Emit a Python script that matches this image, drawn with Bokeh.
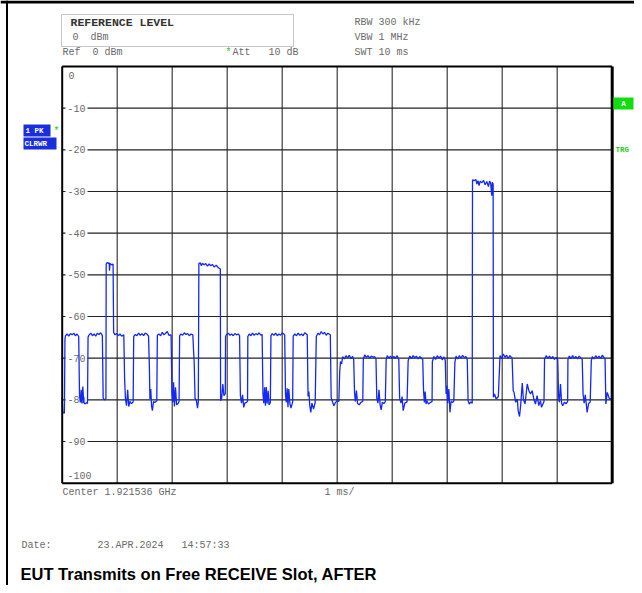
from bokeh.plotting import figure
from bokeh.models import Range1d
from bokeh.core.properties import value
from bokeh.embed import file_html
from bokeh.resources import INLINE

# ---------------- data ----------------
x_ticks_ms = [0, 1, 2, 3, 4, 5, 6, 7, 8, 9, 10]
y_ticks_db = [0, -10, -20, -30, -40, -50, -60, -70, -80, -90, -100]
y_tick_labels = ["0", "-10", "-20", "-30", "-40", "-50", "-60", "-70", "-80", "-90", "-100"]

trace_ms = [
    0.00, 0.01, 0.04, 0.05, 0.06, 0.09, 0.12, 0.15, 0.18, 0.21, 0.24, 0.27, 0.30, 0.315, 0.33, 0.345, 0.36, 0.375, 0.39, 0.41, 0.44, 0.46,
    0.47, 0.49, 0.52, 0.55, 0.58, 0.61, 0.64, 0.67, 0.70, 0.73, 0.745, 0.77, 0.795,
    0.80, 0.82, 0.84, 0.855, 0.86, 0.87, 0.90, 0.925, 0.935, 0.96, 0.99, 1.02, 1.05, 1.08, 1.12, 1.135, 1.15, 1.17, 1.19, 1.21, 1.23, 1.26, 1.29,
    1.30, 1.33, 1.36, 1.39, 1.42, 1.45, 1.48, 1.51, 1.54, 1.57, 1.585, 1.595, 1.61, 1.625, 1.64, 1.66, 1.69, 1.72,
    1.73, 1.76, 1.79, 1.82, 1.85, 1.88, 1.91, 1.94, 1.98, 1.995, 2.01, 2.025, 2.04, 2.06, 2.08, 2.11, 2.125,
    2.135, 2.16, 2.19, 2.22, 2.25, 2.28, 2.31, 2.34, 2.375, 2.39, 2.40, 2.415, 2.44, 2.46, 2.475,
    2.485, 2.51, 2.53, 2.55, 2.58, 2.61, 2.64, 2.67, 2.70, 2.73, 2.76, 2.80, 2.84, 2.875, 2.88, 2.90, 2.92, 2.94, 2.965,
    2.97, 2.99, 3.02, 3.05, 3.08, 3.11, 3.14, 3.17, 3.20, 3.225, 3.24, 3.26, 3.28, 3.30, 3.32, 3.35, 3.37,
    3.375, 3.40, 3.43, 3.46, 3.49, 3.52, 3.55, 3.58, 3.61, 3.635, 3.65, 3.665, 3.68, 3.695, 3.71, 3.725, 3.745, 3.76, 3.785,
    3.795, 3.82, 3.85, 3.88, 3.91, 3.94, 3.97, 4.00, 4.045, 4.06, 4.075, 4.09, 4.105, 4.12, 4.14, 4.16, 4.19,
    4.20, 4.23, 4.26, 4.29, 4.32, 4.35, 4.38, 4.41, 4.455, 4.47, 4.485, 4.50, 4.52, 4.54, 4.57, 4.60,
    4.62, 4.65, 4.68, 4.71, 4.74, 4.77, 4.80, 4.83, 4.875, 4.89, 4.91, 4.94, 4.97, 5.00, 5.03,
    5.045, 5.06, 5.08, 5.10, 5.13, 5.16, 5.19, 5.22, 5.25, 5.28, 5.30, 5.315, 5.33, 5.35, 5.37, 5.40, 5.43, 5.465,
    5.475, 5.50, 5.53, 5.56, 5.59, 5.62, 5.65, 5.68, 5.705, 5.72, 5.74, 5.76, 5.78, 5.80, 5.82, 5.85, 5.875,
    5.89, 5.91, 5.94, 5.97, 6.00, 6.03, 6.06, 6.09, 6.12, 6.135, 6.16, 6.18, 6.20, 6.23, 6.27,
    6.29, 6.32, 6.35, 6.38, 6.41, 6.44, 6.47, 6.50, 6.555, 6.57, 6.585, 6.60, 6.615, 6.63, 6.66, 6.70, 6.725,
    6.73, 6.76, 6.79, 6.82, 6.85, 6.88, 6.91, 6.94, 6.965, 6.98, 6.995, 7.01, 7.03, 7.05, 7.07, 7.10, 7.12,
    7.14, 7.16, 7.19, 7.22, 7.25, 7.28, 7.31, 7.34, 7.365, 7.38, 7.40, 7.43, 7.455,
    7.46, 7.49, 7.52, 7.54, 7.56, 7.58, 7.60, 7.63, 7.66, 7.69, 7.72, 7.75, 7.77, 7.79, 7.81, 7.82, 7.835, 7.84, 7.86, 7.89, 7.93,
    7.96, 7.99, 8.02, 8.05, 8.08, 8.11, 8.14, 8.18, 8.20, 8.215, 8.245, 8.275, 8.29, 8.315, 8.335, 8.365, 8.385, 8.415, 8.455, 8.485,
    8.515, 8.545, 8.575, 8.605, 8.635, 8.665, 8.695, 8.715, 8.76,
    8.77, 8.80, 8.83, 8.86, 8.89, 8.92, 8.95, 8.98, 9.01, 9.025, 9.04, 9.06, 9.08, 9.10, 9.13, 9.165, 9.19,
    9.195, 9.22, 9.25, 9.28, 9.31, 9.34, 9.37, 9.40, 9.455, 9.47, 9.49, 9.51, 9.545, 9.57, 9.60,
    9.62, 9.64, 9.67, 9.70, 9.73, 9.76, 9.79, 9.82, 9.87, 9.885, 9.91, 9.95, 10.0,
]
trace_db = [
    -79.5, -83.0, -83.2, -65.5, -64.6, -64.2, -64.7, -64.1, -64.4, -64.0, -64.6, -64.2, -64.8, -79.0, -80.6, -77.6, -80.9, -76.8, -80.5, -81.0, -80.7, -80.9,
    -65.0, -64.4, -64.0, -64.6, -64.2, -64.7, -64.0, -64.3, -63.9, -64.6, -79.6, -80.0, -79.8,
    -47.4, -47.0, -47.3, -47.1, -49.0, -47.3, -47.6, -47.4, -63.8, -64.4, -64.1, -64.6, -64.2, -64.7, -64.4, -75.0, -79.8, -81.4, -77.6, -81.6, -80.4, -80.9, -80.5,
    -64.8, -64.3, -64.6, -64.0, -64.5, -64.1, -64.6, -64.0, -64.2, -64.7, -72.0, -79.8, -77.4, -81.5, -82.6, -80.4, -80.6, -80.2,
    -64.5, -64.2, -64.6, -63.8, -64.4, -64.0, -63.6, -64.5, -64.4, -78.5, -80.6, -75.8, -81.6, -77.0, -81.2, -80.8, -80.4,
    -64.6, -64.2, -64.5, -63.9, -64.3, -64.1, -64.6, -64.2, -64.4, -68.6, -71.0, -79.6, -80.2, -82.0, -80.4,
    -47.3, -47.1, -47.8, -47.2, -47.6, -47.3, -47.9, -47.4, -47.8, -47.5, -48.1, -47.7, -48.3, -48.6, -80.2, -79.6, -76.2, -79.0, -78.5,
    -64.8, -64.3, -64.0, -64.5, -64.2, -64.6, -64.1, -64.4, -64.2, -64.6, -79.0, -80.8, -78.8, -81.8, -80.8, -80.6, -80.4,
    -64.8, -64.2, -64.6, -64.0, -64.5, -64.1, -64.4, -63.9, -64.5, -64.3, -78.6, -80.8, -77.0, -81.4, -76.9, -80.9, -77.8, -81.2, -80.6,
    -64.6, -64.1, -64.5, -64.0, -64.6, -64.2, -64.5, -63.9, -64.4, -78.8, -80.6, -77.2, -81.8, -77.4, -80.9, -82.0, -80.5,
    -64.7, -64.2, -64.6, -64.0, -64.5, -64.2, -64.6, -63.9, -64.4, -79.2, -78.0, -81.2, -83.0, -80.8, -82.2, -80.6,
    -64.8, -64.0, -64.4, -63.6, -64.2, -63.8, -64.5, -64.0, -64.4, -79.4, -80.3, -81.4, -80.6, -80.2, -80.4,
    -73.4, -70.8, -71.4, -69.6, -70.2, -69.4, -70.0, -69.3, -70.1, -69.6, -70.3, -78.2, -80.4, -77.8, -80.9, -81.2, -80.6, -80.4,
    -70.2, -69.2, -69.8, -69.4, -70.0, -69.5, -69.8, -69.6, -70.2, -79.6, -80.8, -77.6, -81.2, -82.4, -80.6, -80.9, -80.4,
    -70.4, -69.4, -70.0, -69.5, -70.1, -69.6, -70.0, -69.4, -70.3, -79.6, -80.8, -79.2, -82.6, -80.8, -80.5,
    -70.6, -69.5, -70.1, -69.4, -69.9, -69.5, -70.2, -69.6, -70.3, -77.8, -80.6, -78.0, -81.0, -80.2, -81.0, -80.6, -80.4,
    -70.8, -69.6, -70.3, -69.4, -70.0, -69.5, -70.4, -69.7, -70.5, -78.6, -76.6, -80.8, -77.4, -83.0, -80.4, -80.6, -80.3,
    -71.0, -69.5, -70.2, -69.4, -70.0, -69.3, -69.9, -69.6, -70.4, -80.2, -81.0, -80.5, -80.8,
    -27.2, -27.4, -27.1, -28.2, -27.4, -28.6, -27.5, -27.9, -27.3, -28.4, -27.6, -28.8, -27.5, -28.0, -31.0, -27.8, -28.2, -79.4, -78.6, -79.8, -79.2,
    -69.4, -70.0, -69.0, -69.8, -69.3, -70.1, -69.4, -70.0, -77.8, -78.2, -80.6, -79.8, -82.6, -84.0, -81.4, -76.0, -79.8, -81.0, -76.2, -77.8,
    -78.6, -77.8, -79.8, -81.0, -79.0, -81.4, -80.2, -81.8, -80.4,
    -70.2, -69.4, -70.0, -69.5, -70.1, -69.6, -70.3, -69.8, -70.4, -79.2, -80.6, -76.2, -80.8, -81.4, -80.6, -80.9, -80.4,
    -70.3, -69.5, -70.1, -69.4, -70.0, -69.6, -70.2, -69.5, -70.3, -78.6, -80.8, -78.8, -83.0, -80.9, -80.5,
    -70.6, -69.6, -70.2, -69.4, -70.0, -69.5, -70.1, -69.3, -70.2, -81.0, -78.2, -79.8, -79.6,
]

# ---------------- layout helpers (screen pixels -> data units) ----------------
X0_PX, PX_PER_MS = 61.7, 55.0
Y0_PX, PX_PER_DB = 66.0, 4.1667
W, H = 634, 585
NB = "\u00a0"  # keeps the analyser's wide gaps in SVG text


def tx(px):
    return (px - X0_PX) / PX_PER_MS


def ty(py):
    return -(py - Y0_PX) / PX_PER_DB


p = figure(width=W, height=H, output_backend="svg", toolbar_location=None,
           x_range=Range1d(tx(0), tx(W)),
           y_range=Range1d(ty(H), ty(0)),
           x_axis_location=None, y_axis_location=None,
           min_border=0, min_border_left=0, min_border_right=0,
           min_border_top=0, min_border_bottom=0)
p.grid.visible = False
p.outline_line_color = None
p.background_fill_color = "white"
p.border_fill_color = "white"

MONO = value("Liberation Mono")
GRAY = "#6a6a6a"
FS = value("10px")

# page border (top and left)
p.segment(x0=[tx(0)], y0=[ty(1.5)], x1=[tx(W)], y1=[ty(1.5)],
          line_color="black", line_width=3)
p.segment(x0=[tx(6.5)], y0=[ty(0)], x1=[tx(6.5)], y1=[ty(H)],
          line_color="black", line_width=2)

# grid
xmin, xmax = x_ticks_ms[0], x_ticks_ms[-1]
ymax, ymin = y_ticks_db[0], y_ticks_db[-1]
p.segment(x0=x_ticks_ms[1:-1], y0=[ymin] * (len(x_ticks_ms) - 2), x1=x_ticks_ms[1:-1],
          y1=[ymax] * (len(x_ticks_ms) - 2), line_color="#3c3c3c", line_width=1.2)
p.segment(x0=[xmin] * (len(y_ticks_db) - 2), y0=y_ticks_db[1:-1], x1=[xmax] * (len(y_ticks_db) - 2),
          y1=y_ticks_db[1:-1], line_color="#222222", line_width=1.2)

# gaps behind the level labels
inner = y_ticks_db[1:-1]
p.rect(x=[tx(76)] * len(inner), y=inner, width=22, height=9, width_units="screen",
       height_units="screen", fill_color="white", line_color=None)
p.text(x=[tx(67)] * len(inner), y=inner, text=y_tick_labels[1:-1], text_font=MONO,
       text_font_size=FS, text_color=GRAY, text_baseline="middle", text_align="left")
p.text(x=[tx(68)], y=[ty(75)], text=[y_tick_labels[0]], text_font=MONO,
       text_font_size=FS, text_color=GRAY, text_baseline="middle", text_align="left")
p.text(x=[tx(67)], y=[ty(475)], text=[y_tick_labels[-1]], text_font=MONO,
       text_font_size=FS, text_color=GRAY, text_baseline="middle", text_align="left")

# trace
p.line(trace_ms, trace_db, line_color="#1428f5", line_width=1.3)

# frame
p.segment(x0=[xmin, xmin, xmin], y0=[ymax, ymin, ymin], x1=[xmax, xmax, xmin], y1=[ymax, ymin, ymax],
          line_color="black", line_width=2)
p.segment(x0=[xmax], y0=[ymin], x1=[xmax], y1=[ymax], line_color="black", line_width=3)

# header box
p.quad(left=[tx(61)], right=[tx(293)], top=[ty(14)], bottom=[ty(46)],
       fill_color=None, line_color="#c8c8c8", line_width=1)
p.text(x=[tx(70)], y=[ty(22)], text=["REFERENCE LEVEL"], text_font=MONO, text_font_size=value("11.5px"),
       text_font_style="bold", text_color="#333333", text_baseline="middle")
p.text(x=[tx(72)], y=[ty(37)], text=["0" + NB * 2 + "dBm"], text_font=MONO, text_font_size=FS,
       text_color=GRAY, text_baseline="middle")
p.text(x=[tx(62)], y=[ty(52)], text=["Ref" + NB * 2 + "0 dBm"], text_font=MONO, text_font_size=FS,
       text_color=GRAY, text_baseline="middle")
p.text(x=[tx(225)], y=[ty(52)], text=["*"], text_font=MONO, text_font_size=FS,
       text_color="#22cc22", text_baseline="middle")
p.text(x=[tx(232)], y=[ty(52)], text=["Att" + NB * 3 + "10 dB"], text_font=MONO, text_font_size=FS,
       text_color=GRAY, text_baseline="middle")
p.text(x=[tx(354)] * 3, y=[ty(22), ty(37), ty(52)], text=["RBW 300 kHz", "VBW 1 MHz", "SWT 10 ms"],
       text_font=MONO, text_font_size=FS, text_color=GRAY, text_baseline="middle")

# left trace markers
p.quad(left=[tx(23), tx(23)], right=[tx(50), tx(56)], top=[ty(124), ty(137)], bottom=[ty(136), ty(149)],
       fill_color="#1a2ee0", line_color=None)
p.text(x=[tx(25), tx(24)], y=[ty(130.5), ty(143.5)], text=["1 PK", "CLRWR"], text_font=MONO,
       text_font_size=value("7.5px"), text_font_style="bold", text_color="white", text_baseline="middle")
p.text(x=[tx(53)], y=[ty(131)], text=["*"], text_font=MONO, text_font_size=FS,
       text_color="#22cc22", text_baseline="middle")

# right markers
p.quad(left=[tx(613)], right=[tx(633)], top=[ty(97)], bottom=[ty(109)],
       fill_color="#11dd11", line_color=None)
p.text(x=[tx(623)], y=[ty(103.5)], text=["A"], text_font=MONO, text_font_size=value("7.5px"),
       text_font_style="bold", text_color="white", text_baseline="middle", text_align="center")
p.text(x=[tx(615)], y=[ty(149)], text=["TRG"], text_font=MONO, text_font_size=value("7.5px"),
       text_font_style="bold", text_color="#22cc22", text_baseline="middle")

# footer
p.text(x=[tx(62)], y=[ty(492)], text=["Center 1.921536 GHz"], text_font=MONO, text_font_size=FS,
       text_color=GRAY, text_baseline="middle")
p.text(x=[tx(324)], y=[ty(492)], text=["1 ms/"], text_font=MONO, text_font_size=FS,
       text_color=GRAY, text_baseline="middle")
p.text(x=[tx(21)], y=[ty(545)], text=["Date:"], text_font=MONO, text_font_size=FS,
       text_color=GRAY, text_baseline="middle")
p.text(x=[tx(97)], y=[ty(545)], text=["23.APR.2024" + NB * 3 + "14:57:33"], text_font=MONO,
       text_font_size=FS, text_color=GRAY, text_baseline="middle")
p.text(x=[tx(20)], y=[ty(573)], text=["EUT Transmits on Free RECEIVE Slot, AFTER"],
       text_font=value("Liberation Sans"), text_font_size=value("16.5px"), text_font_style="bold",
       text_color="black", text_baseline="middle")

open("out.html", "w").write(file_html(p, INLINE))
